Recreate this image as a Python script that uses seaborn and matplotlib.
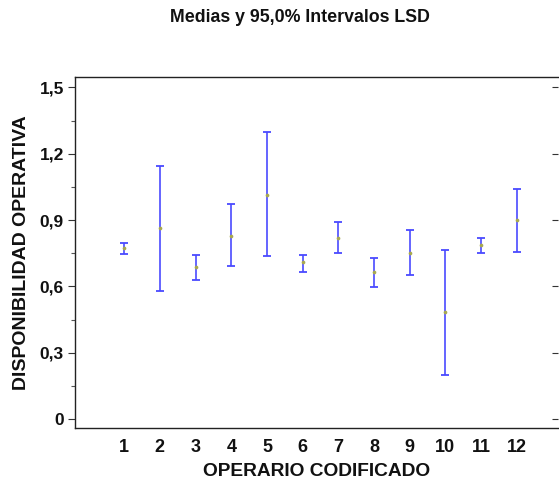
import matplotlib
matplotlib.use("Agg")
import matplotlib.pyplot as plt
from matplotlib.ticker import FixedLocator, FuncFormatter
import seaborn as sns
import pandas as pd

operarios = ["1", "2", "3", "4", "5", "6", "7", "8", "9", "10", "11", "12"]
medias = [0.772, 0.863, 0.686, 0.828, 1.015, 0.709, 0.820, 0.667, 0.753, 0.483, 0.786, 0.902]
lim_inf = [0.747, 0.581, 0.629, 0.692, 0.737, 0.667, 0.750, 0.599, 0.652, 0.198, 0.750, 0.757]
lim_sup = [0.798, 1.145, 0.742, 0.971, 1.299, 0.743, 0.890, 0.730, 0.857, 0.764, 0.819, 1.041]
y_ticks = [0, 0.3, 0.6, 0.9, 1.2, 1.5]

df = pd.DataFrame({"operario": operarios, "media": medias, "lo": lim_inf, "hi": lim_sup})

sns.set_theme(style="white")
plt.rcParams["font.family"] = ["Liberation Sans", "DejaVu Sans"]
plt.rcParams["font.weight"] = "bold"
plt.rcParams["text.color"] = "#111111"
plt.rcParams["axes.labelcolor"] = "#111111"
plt.rcParams["xtick.color"] = "#111111"
plt.rcParams["ytick.color"] = "#111111"

fig = plt.figure(figsize=(5.59, 4.80), dpi=100)
ax = fig.add_axes([0.134, 0.109, 0.864, 0.730])

blue = "#4a4aff"
pos = list(range(len(operarios)))
ax.errorbar(pos, df["media"],
            yerr=[df["media"] - df["lo"], df["hi"] - df["media"]],
            fmt="none", ecolor=blue, elinewidth=1.2, capsize=2.8, capthick=1.3)
sns.scatterplot(x=pos, y=df["media"], ax=ax, color="#a8a850", s=7,
                linewidth=0, zorder=5, legend=False)

ax.set_xlim(-1.38, 12.15)
ax.set_ylim(-0.039, 1.546)
ax.set_xticks(pos)
ax.set_xticklabels(operarios, fontsize=13, fontweight="bold")
ax.yaxis.set_major_locator(FixedLocator(y_ticks))
ax.yaxis.set_minor_locator(FixedLocator([0.15, 0.45, 0.75, 1.05, 1.35]))

def fmt(v, _):
    if abs(v) < 1e-9:
        return "0"
    return f"{v:.1f}".replace(".", ",")

ax.yaxis.set_major_formatter(FuncFormatter(fmt))
for lab in ax.get_yticklabels():
    lab.set_fontsize(12.5)
    lab.set_fontweight("bold")

ax.tick_params(axis="x", length=0, pad=8)
ax.tick_params(axis="y", which="major", left=True, right=True, direction="out",
               length=5, width=0.8, color="#333333", pad=3, labelsize=12.5)
ax.tick_params(axis="y", which="minor", left=True, right=False, direction="out",
               length=3, width=0.8, color="#555555")
for t in ax.yaxis.get_major_ticks():
    t.tick2line.set_marker(0)
    t.tick2line.set_markersize(4)

for side in ["left", "bottom", "top"]:
    ax.spines[side].set_visible(True)
    ax.spines[side].set_color("#222222")
    ax.spines[side].set_linewidth(1.0)
ax.spines["right"].set_visible(False)

ax.set_xlabel("OPERARIO CODIFICADO", fontsize=13.8, fontweight="bold", labelpad=5)
ax.set_ylabel("DISPONIBILIDAD OPERATIVA", fontsize=14, fontweight="bold", labelpad=7)

fig.text(300 / 559, 1 - 17 / 480, "Medias y 95,0% Intervalos LSD",
         ha="center", va="center", fontsize=12.8, fontweight="bold")

fig.savefig("out.png", dpi=100)
